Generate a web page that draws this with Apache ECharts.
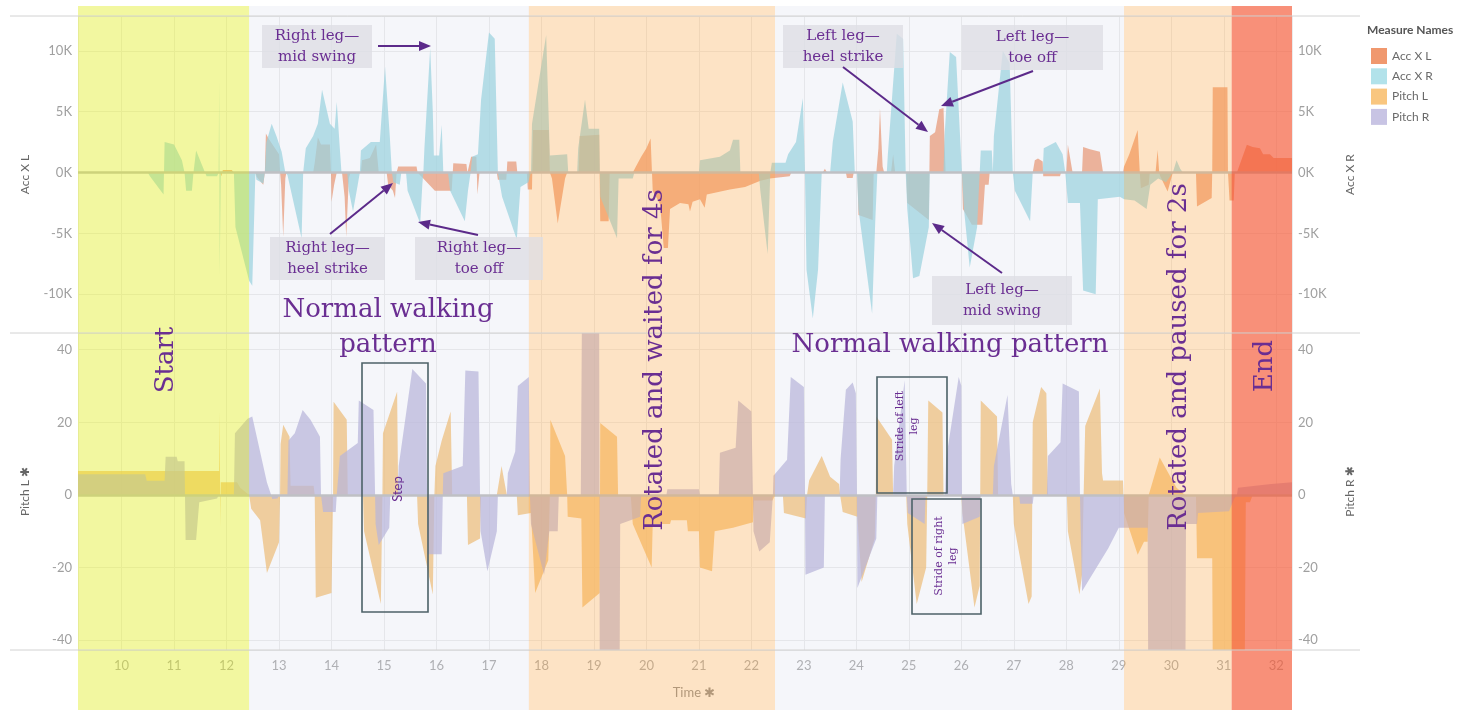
<!DOCTYPE html>
<html><head><meta charset="utf-8">
<script src="https://cdn.jsdelivr.net/npm/echarts@6/dist/echarts.min.js"></script>
<style>html,body{margin:0;padding:0;background:#fff}#c{width:1481px;height:710px}</style>
</head><body><div id="c"></div>
<script>
const timeMin = 9.17, timeMax = 32.30;
const accRange = [-13190, 12860];
const pitchRange = [-42.7, 44.6];

const seriesNames = ['Acc X L', 'Acc X R', 'Pitch L', 'Pitch R'];

const accXL = [
[9.17,0],[11.88,0],[11.90,-300],[11.93,200],[12.10,200],[12.14,0],[12.55,0],[12.58,-400],[12.70,-1000],[12.73,0],[12.75,3200],[12.80,2800],[13.00,1500],[13.02,0],[13.04,-1000],[13.08,-5300],[13.12,-500],[13.14,0],[13.65,0],[13.68,800],[13.74,2900],[13.80,2300],[13.97,2300],[13.99,0],[14.00,-2400],[14.05,-1000],[14.10,0],[14.20,0],[14.25,-2000],[14.28,-5300],[14.33,-500],[14.36,0],[14.56,0],[14.58,1000],[14.73,1200],[14.85,2300],[14.90,0],[15.05,0],[15.08,-1000],[15.17,-1500],[15.21,-2100],[15.24,0],[15.27,500],[15.62,500],[15.64,0],[15.97,-1500],[16.29,-1500],[16.31,0],[16.32,760],[16.57,700],[16.59,0],[16.66,1300],[16.76,1300],[16.78,-1800],[16.82,0],[17.15,0],[17.17,-600],[17.33,-600],[17.35,900],[17.52,900],[17.54,0],[17.72,0],[17.74,-1400],[17.82,-1400],[17.84,3500],[18.14,3500],[18.16,0],[18.20,-500],[18.31,-4200],[18.45,-500],[18.49,0],[18.71,0],[18.73,3000],[19.10,3100],[19.12,-4000],[19.28,-4000],[19.30,0],[19.74,0],[19.80,500],[19.90,1300],[20.00,2000],[20.08,2800],[20.10,2800],[20.12,-1500],[20.26,-2600],[20.33,-6200],[20.41,-6200],[20.45,-3000],[20.64,-2500],[20.80,-2600],[20.83,-3200],[20.88,-2400],[21.02,-2200],[21.11,-2900],[21.15,-1800],[21.59,-1400],[21.88,-1200],[22.16,-700],[22.35,-500],[22.73,-300],[22.76,0],[23.36,0],[23.40,300],[23.44,0],[23.80,0],[23.82,-450],[23.93,-450],[23.95,0],[24.02,0],[24.04,-3500],[24.31,-3900],[24.33,0],[24.38,0],[24.42,2000],[24.45,5250],[24.50,500],[24.53,0],[24.66,0],[24.70,1500],[24.74,0],[24.95,0],[24.97,-2500],[25.38,-3900],[25.40,3000],[25.50,3300],[25.58,5200],[25.66,5300],[25.70,0],[26.01,0],[26.03,-3000],[26.20,-4300],[26.40,-4300],[26.45,-1000],[26.52,-1000],[26.54,0],[27.36,0],[27.40,1000],[27.46,1150],[27.55,900],[27.56,-300],[27.88,-300],[27.90,0],[28.00,0],[28.03,2270],[28.10,500],[28.12,0],[28.30,0],[28.32,2100],[28.45,1900],[28.64,1700],[28.70,0],[29.08,0],[29.10,500],[29.20,1500],[29.36,3500],[29.40,0],[29.42,-1300],[29.57,-1000],[29.59,0],[29.70,0],[29.74,1850],[29.77,0],[29.79,-300],[29.93,-1560],[30.03,0],[30.47,0],[30.49,-2800],[30.77,-2100],[30.78,0],[30.79,7000],[31.07,7000],[31.08,0],[31.11,-2300],[31.19,-2300],[31.21,0],[31.25,0],[31.44,2270],[31.55,2100],[31.69,2000],[31.75,1500],[31.88,1500],[31.95,1200],[32.30,1200]
];

const accXR = [
[9.17,0],[10.50,0],[10.54,-300],[10.80,-1800],[10.82,2500],[11.00,2300],[11.15,1000],[11.20,0],[11.23,-1500],[11.34,-1500],[11.37,0],[11.42,1800],[11.59,0],[11.62,-300],[11.82,-300],[11.85,0],[11.86,7600],[11.87,-8400],[11.89,0],[12.14,0],[12.17,-4500],[12.43,-8900],[12.49,-9300],[12.55,0],
[12.57,-600],[12.70,-900],[12.73,0],[12.76,2500],[12.86,4000],[12.95,3000],[13.05,1700],[13.12,0],[13.16,-200],[13.43,-5400],[13.46,0],[13.51,2000],[13.65,3000],[13.74,4000],[13.82,6800],[13.97,4000],[14.06,3600],[14.10,5800],[14.15,2500],[14.19,0],[14.30,0],[14.33,-1500],[14.41,-3200],[14.50,-1000],[14.54,0],[14.56,1800],[14.75,2500],[14.92,2500],[15.02,8700],[15.11,3000],[15.15,0],[15.18,-800],[15.30,-1000],[15.33,0],[15.42,0],[15.45,-1500],[15.69,-4200],[15.73,-1000],[15.75,0],[15.77,2000],[15.88,10200],[15.93,5000],[15.95,1400],[16.05,1400],[16.10,3900],[16.13,0],[16.22,0],[16.26,-1500],[16.54,-4000],[16.60,-1500],[16.65,0],[16.68,1300],[16.79,1500],[16.85,6000],[17.00,11500],[17.11,11000],[17.17,0],[17.25,-2000],[17.53,-5500],[17.60,-1200],[17.75,-800],[17.80,0],
[17.82,4000],[18.09,11300],[18.16,1400],[18.49,1500],[18.51,0],[18.68,0],[18.70,2000],[18.83,6000],[18.90,3600],[19.10,3600],[19.12,-2000],[19.44,-5400],[19.47,-500],[19.74,-500],[19.77,0],[21.00,0],[21.02,1000],[21.40,1300],[21.59,1800],[21.65,2700],[21.77,2700],[21.79,0],[22.14,0],[22.17,-1500],[22.31,-6700],[22.36,0],[22.39,800],[22.65,800],
[22.70,1500],[22.85,2500],[22.98,6100],[23.02,0],[23.05,-8000],[23.17,-12000],[23.27,-8000],[23.34,0],[23.50,0],[23.55,2500],[23.74,7400],[23.93,4200],[23.97,0],[24.01,0],[24.04,-3000],[24.30,-11600],[24.36,-4000],[24.40,0],[24.58,0],[24.60,1500],[24.77,11400],[24.89,11000],[24.94,0],[24.97,-3000],[25.08,-8700],[25.20,-8500],[25.38,-4500],[25.40,0],[25.66,0],[25.68,3000],[25.78,9900],[25.90,9500],[26.01,0],[26.05,-3000],[26.16,-7800],[26.30,-4500],[26.35,0],[26.37,1800],[26.58,1800],[26.60,0],[26.62,3000],[26.79,10000],[26.92,9000],[26.98,0],[27.02,-1500],[27.31,-4000],[27.36,0],[27.55,0],[27.57,2000],[27.80,2500],[27.93,1500],[27.98,0],[28.03,-2500],[28.26,-2500],[28.32,-9700],[28.56,-10000],[28.60,-2200],[29.02,-2000],
[29.10,-2200],[29.30,-2300],[29.53,-3000],[29.60,-1000],[29.75,-500],[29.90,-800],[30.03,0],[30.10,1000],[30.17,300],[30.22,0],[32.30,0]
];

const pitchL = [
[9.17,6.6],[11.86,6.6],[11.87,23],[11.88,-8.8],[11.89,3.5],[12.20,3.5],[12.26,2],[12.43,0],[12.45,0],[12.47,-3.8],[12.64,-7],[12.77,-21.5],[13.00,-13],[13.02,0],[13.03,14],[13.08,19.3],[13.20,16],[13.22,2.5],[13.66,2.5],[13.68,0],[13.70,-28.3],[14.00,-27],[14.03,0],[14.04,25.7],[14.29,20.7],[14.31,0],[14.60,0],[14.62,-10],[14.94,-30],[14.97,0],[14.98,17],[15.25,28.4],[15.27,0],[15.63,0],[15.65,-8],[15.93,-27.4],[15.96,0],[15.98,8],[16.10,15],[16.27,23],[16.30,0],[16.58,0],[16.60,-13.8],[16.83,-12],[16.85,0],[17.15,0],[17.24,8],[17.34,0],[17.53,0],[17.55,-5.6],[17.80,-5],[17.82,-5],[17.88,-27],[18.13,-18],[18.16,0],[18.17,20.7],[18.45,10.7],[18.49,0],[18.50,-6],[18.76,-6.5],[18.78,-31],[19.11,-27],[19.12,19.8],[19.44,16],[19.46,0],[19.70,0],[19.74,-8],[19.95,-15],[20.10,-20],[20.12,-8],[20.45,-8],[20.47,-7],[20.77,-7],[20.79,-10],[21.00,-10],[21.02,-20],[21.25,-21],[21.30,-10],[21.65,-9],[22.03,-7.5],[22.05,-1.5],[22.40,-1.5],[22.45,0],[22.60,0],[22.62,-5],[23.04,-6.5],[23.06,0],[23.10,4],[23.34,10.7],[23.50,5],[23.67,3],[23.69,0],[23.72,0],[23.74,-4.7],[24.02,-6],[24.10,-24],[24.35,-12],[24.37,0],[24.38,21.6],[24.68,15.2],[24.70,0],[24.95,0],[24.97,-8],[25.15,-30],[25.33,-20],[25.35,0],[25.37,26],[25.64,22.7],[25.66,0],[26.00,0],[26.02,-5],[26.25,-31],[26.35,-25],[26.37,26],[26.68,21.6],[26.70,0],[26.98,0],[27.00,-8],[27.28,-30],[27.34,-28],[27.36,20],[27.52,29.7],[27.62,28],[27.65,0],[28.01,0],[28.03,-10],[28.25,-27.4],[28.30,-22],[28.33,0],[28.36,19],[28.64,29.3],[28.68,6],[28.70,4],[29.08,4],[29.10,-5],[29.36,-16.5],[29.48,-12.9],[29.55,-12.9],[29.57,0],[29.59,0],[29.78,10.3],[30.10,2],[30.26,0],[30.47,0],[30.49,-17.4],[30.78,-17.4],[30.79,-46],[31.40,-46],[31.42,-2],[31.50,-2],[31.55,0],[32.30,0]
];

const pitchR = [
[9.17,5.7],[10.45,5.7],[10.48,3.9],[10.82,3.9],[10.84,10.5],[11.05,10.5],[11.07,9.3],[11.20,9.3],[11.22,-12.4],[11.42,-12.4],[11.48,-2],[11.82,-1],[11.85,0],[12.14,0],[12.16,17],[12.40,21],[12.49,21.6],[12.77,3.4],[12.85,0],[12.87,-1.1],[12.97,-1],[13.00,0],[13.16,0],[13.18,15],[13.30,17],[13.45,23.4],[13.60,20.7],[13.78,16],[13.80,0],[13.84,-4.7],[14.08,-4.7],[14.10,0],[14.16,10.7],[14.50,14.3],[14.52,26],[14.80,23.4],[14.83,0],[14.84,-8],[14.90,-13.8],[15.10,-9],[15.12,0],[15.26,0],[15.28,8],[15.54,34.7],[15.80,30.7],[15.82,0],[15.83,-16.3],[16.10,-16.3],[16.12,0],[16.13,6],[16.50,8],[16.55,34.3],[16.80,34],[16.83,0],[16.84,-10],[16.97,-21],[17.15,-10],[17.17,0],[17.34,0],[17.36,6],[17.50,12],[17.55,30],[17.76,32.5],[17.78,0],[17.80,-8],[18.05,-22],[18.15,-10],[18.31,-10],[18.33,0],[18.75,0],[18.77,46],[19.10,46],[19.11,-46],[19.49,-46],[19.50,-8],[19.88,-6],[19.90,0],[20.38,0],[20.40,1.6],[21.00,1.6],[21.02,0],[21.38,0],[21.40,11.6],[21.70,13],[21.75,26],[22.00,23],[22.03,0],[22.04,-10],[22.15,-15.6],[22.35,-13],[22.41,0],[22.42,5.3],[22.68,9.7],[22.75,32.5],[23.00,29.7],[23.02,0],[23.03,-22],[23.38,-20],[23.40,0],[23.68,0],[23.70,10],[23.80,29],[23.93,31],[23.99,28],[24.01,0],[24.02,-25.6],[24.38,-12],[24.40,0],[24.70,0],[24.72,8],[24.92,31.6],[24.96,0],[24.98,-5],[25.30,-8],[25.32,0],[25.69,0],[25.71,10],[25.95,32.5],[26.00,30],[26.01,0],[26.02,-8],[26.35,-6],[26.37,0],[26.60,0],[26.62,8],[26.88,27.5],[26.95,3],[26.98,0],[27.10,0],[27.12,-2.4],[27.36,-2.4],[27.38,0],[27.63,0],[27.65,10.7],[27.89,14.5],[27.93,30.7],[28.24,28.5],[28.26,0],[28.30,-26.5],[28.80,-14.7],[29.00,-9],[29.55,-9],[29.56,-46],[30.27,-46],[30.28,-8],[30.49,-8],[30.51,-5],[31.10,-4.5],[31.20,-1],[31.25,0],[31.27,2],[31.60,2.5],[31.90,3],[32.30,3.5]
];

// activity phases (time spans)
const phaseStart = [9.17, 12.43, 17.76, 22.45, 29.10, 31.15];
const phaseEnd   = [12.43, 17.76, 22.45, 29.10, 31.15, 32.30];

// ---------- styles ----------
const phaseTint = ['rgba(226,238,45,0.45)','rgba(205,210,232,0.2)','rgba(250,178,95,0.36)','rgba(205,210,232,0.2)','rgba(250,178,95,0.36)','rgba(245,92,58,0.68)'];
const seriesColors = ['#ee8a5c', '#8fd3de', '#f5b860', '#b3aed8'];
const legendColors = ['#f0986e', '#b2e2ea', '#f9c67f', '#c8c4e4'];
const sans = 'Lato, "Open Sans", "DejaVu Sans", sans-serif';
const serif = '"DejaVu Serif", serif';
const purple = '#6a2e92';
const arrowCol = '#5c2a8a';

const chart = echarts.init(document.getElementById('c'), null, {renderer: 'canvas'});

function xAx(gi, extra) {
  return Object.assign({
    type: 'value', gridIndex: gi, min: timeMin, max: timeMax, minInterval: 1, maxInterval: 1,
    axisLine: {show: false}, axisTick: {show: false}, axisLabel: {show: false},
    splitLine: {show: true, lineStyle: {color: '#ebebeb', width: 1}}
  }, extra || {});
}
function yAx(gi, pos, range, step, name, gap, fmt, split) {
  return {
    type: 'value', gridIndex: gi, position: pos, min: range[0], max: range[1],
    minInterval: step, maxInterval: step,
    name: name, nameLocation: 'middle', nameGap: gap, nameRotate: 90,
    nameTextStyle: {color: '#666', fontSize: 12, fontFamily: sans},
    axisLine: {show: false}, axisTick: {show: false},
    axisLabel: {color: '#a0a0a0', fontSize: 13, fontFamily: sans, margin: 6,
      formatter: v => (Math.abs(v % step) < 1e-9 ? fmt(v) : '')},
    splitLine: {show: split, lineStyle: {color: '#ececec', width: 1}}
  };
}
const kfmt = v => Math.round(v / 1000) + 'K';
const pfmt = v => String(Math.round(v));

function area(idx, data, xi, yi, withZero) {
  const s = {
    name: seriesNames[idx], type: 'line', xAxisIndex: xi, yAxisIndex: yi, data: data,
    showSymbol: false, symbol: 'none', silent: true, z: 2,
    lineStyle: {width: 0, opacity: 0},
    itemStyle: {color: seriesColors[idx]},
    areaStyle: {color: seriesColors[idx], opacity: 0.72}
  };
  if (withZero) {
    s.markLine = {silent: true, symbol: 'none', label: {show: false}, z: 3,
      lineStyle: {color: '#bcbcbc', width: 2.5, type: 'solid'}, data: [{yAxis: 0}]};
  }
  return s;
}

function arrow(x1, y1, x2, y2) {
  const a = Math.atan2(y2 - y1, x2 - x1), hl = 12, hw = 5;
  const bx = x2 - hl * Math.cos(a), by = y2 - hl * Math.sin(a);
  return [
    {type: 'line', z: 100, shape: {x1: x1, y1: y1, x2: bx, y2: by}, style: {stroke: arrowCol, lineWidth: 2}},
    {type: 'polygon', z: 100, shape: {points: [[x2, y2], [bx - hw * Math.sin(a), by + hw * Math.cos(a)], [bx + hw * Math.sin(a), by - hw * Math.cos(a)]]}, style: {fill: arrowCol}}
  ];
}
function note(text, x, y, w, h) {
  return [
    {type: 'rect', z: 99, shape: {x: x, y: y, width: w, height: h}, style: {fill: 'rgba(222,222,228,0.78)'}},
    {type: 'text', z: 100, x: x + w / 2, y: y + h / 2, style: {text: text, font: '15px ' + serif, fill: purple, align: 'center', verticalAlign: 'middle', lineHeight: 21}}
  ];
}
function big(text, x, y, rot) {
  return {type: 'text', z: 100, x: x, y: y, rotation: rot || 0, style: {text: text, font: '26px ' + serif, fill: purple, align: 'center', verticalAlign: 'middle'}};
}
function box(x, y, w, h) {
  return {type: 'rect', z: 100, shape: {x: x, y: y, width: w, height: h}, style: {fill: 'none', stroke: '#4d6268', lineWidth: 1.6}};
}
function hline(y) {
  return {type: 'line', z: 100, shape: {x1: 10, y1: y, x2: 1360, y2: y}, style: {stroke: '#d2d2d2', lineWidth: 1}};
}
const R = Math.PI / 2;

const graphics = [].concat(
  [hline(16), hline(333), hline(650)],
  [big('Start', 166, 360, R), big('Rotated and waited for 4s', 655, 360, R), big('Rotated and paused for 2s', 1179, 357, R), big('End', 1265, 366, R)],
  [big('Normal walking', 388, 310), big('pattern', 388, 345), big('Normal walking pattern', 950, 345)],
  note('Right leg\u2014\nmid swing', 262, 25, 110, 43), arrow(378, 46, 431, 46),
  note('Right leg\u2014\nheel strike', 270, 237, 115, 43), arrow(330, 234, 393, 183),
  note('Right leg\u2014\ntoe off', 415, 237, 128, 43), arrow(478, 235, 418, 222),
  note('Left leg\u2014\nheel strike', 783, 25, 120, 43), arrow(843, 67, 928, 132),
  note('Left leg\u2014\ntoe off', 962, 25, 141, 45), arrow(1033, 71, 941, 106),
  note('Left leg\u2014\nmid swing', 932, 276, 140, 49), arrow(1002, 273, 932, 223),
  [box(362, 363, 66, 249), box(877, 377, 70, 116), box(912, 499, 69, 115)],
  [{type: 'text', z: 100, x: 398, y: 489, rotation: R, style: {text: 'Step', font: '13px ' + sans, fill: purple, align: 'center', verticalAlign: 'middle'}},
   {type: 'text', z: 100, x: 907, y: 426, rotation: R, style: {text: 'Stride of left\nleg', font: '11px ' + serif, fill: purple, align: 'center', verticalAlign: 'middle', lineHeight: 14}},
   {type: 'text', z: 100, x: 946, y: 556, rotation: R, style: {text: 'Stride of right\nleg', font: '11px ' + serif, fill: purple, align: 'center', verticalAlign: 'middle', lineHeight: 14}},
   {type: 'text', z: 100, x: 1367, y: 30, style: {text: 'Measure Names', font: 'bold 12px ' + sans, fill: '#555', verticalAlign: 'middle'}}]
);

chart.setOption({
  animation: false,
  backgroundColor: '#ffffff',
  grid: [
    {left: 78, width: 1214, top: 16, height: 317},
    {left: 78, width: 1214, top: 333, height: 317},
    {left: 78, width: 1214, top: 6, height: 704}
  ],
  xAxis: [
    xAx(0),
    xAx(1, {axisLabel: {show: true, color: '#a8a8a8', fontSize: 13, fontFamily: sans, margin: 9,
      formatter: v => (Number.isInteger(v) ? String(v) : '')},
      name: 'Time \u2731', nameLocation: 'middle', nameGap: 36,
      nameTextStyle: {color: '#8a8a8a', fontSize: 13, fontFamily: sans, padding: [0, 0, 0, 18]}}),
    {type: 'value', gridIndex: 2, min: timeMin, max: timeMax, show: false}
  ],
  yAxis: [
    yAx(0, 'left', accRange, 5000, 'Acc X L', 47, kfmt, true),
    yAx(0, 'right', accRange, 5000, 'Acc X R', 52, kfmt, false),
    yAx(1, 'left', pitchRange, 20, 'Pitch L \u2731', 47, pfmt, true),
    yAx(1, 'right', pitchRange, 20, 'Pitch R \u2731', 52, pfmt, false),
    {type: 'value', gridIndex: 2, min: 0, max: 1, show: false}
  ],
  legend: {
    data: seriesNames.map((n, i) => ({name: n, itemStyle: {color: legendColors[i], opacity: 1}})),
    orient: 'vertical', left: 1366, top: 43, itemWidth: 16, itemHeight: 16, itemGap: 4.3,
    icon: 'rect', selectedMode: false, lineStyle: {opacity: 0},
    textStyle: {color: '#6a6a6a', fontSize: 12, fontFamily: sans}
  },
  series: [
    area(0, accXL, 0, 0, true),
    area(1, accXR, 0, 1, false),
    area(2, pitchL, 1, 2, true),
    area(3, pitchR, 1, 3, false),
    {
      name: 'phases', type: 'line', xAxisIndex: 2, yAxisIndex: 4, data: [[timeMin, 0]],
      symbol: 'none', showSymbol: false, silent: true, lineStyle: {opacity: 0, width: 0}, z: 10,
      markArea: {silent: true, z: 10, label: {show: false},
        data: phaseStart.map((s, i) => [{xAxis: s, itemStyle: {color: phaseTint[i]}}, {xAxis: phaseEnd[i]}])}
    }
  ],
  graphic: graphics
});
</script>
</body></html>
